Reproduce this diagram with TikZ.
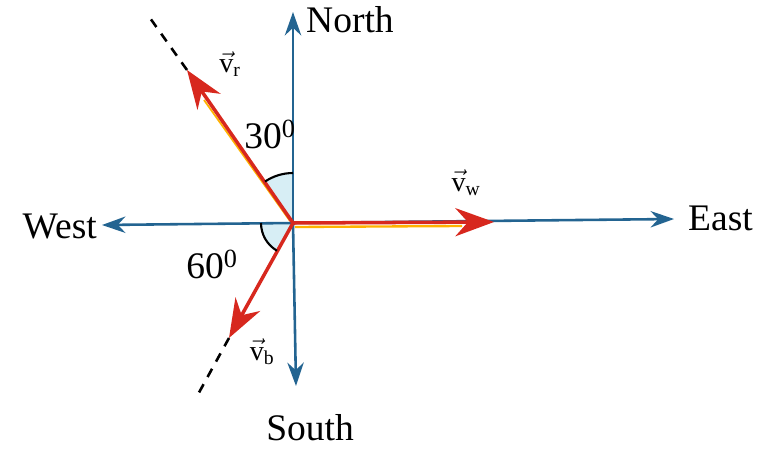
\documentclass[tikz,border=0pt]{standalone}
\usepackage{fontspec}
\setmainfont{Liberation Serif}
\usetikzlibrary{arrows.meta,calc}
\definecolor{axisblue}{RGB}{35,100,145}
\definecolor{vecred}{RGB}{215,40,30}
\definecolor{wedge}{RGB}{215,238,245}
\begin{document}
\begin{tikzpicture}[x=0.03cm,y=-0.03cm,
  axis/.style={draw=axisblue,line width=2.2pt,-{Stealth[length=20pt,width=14pt]}},
  vec/.style={draw=vecred,line width=3pt,-{Stealth[length=33pt,width=24pt]}},
  dashline/.style={draw=black,line width=2.2pt,dash pattern=on 8pt off 7pt},
  lab/.style={font=\fontsize{32}{36}\selectfont,inner sep=0pt},
  small/.style={font=\fontsize{24}{26}\selectfont,inner sep=0pt},
  arcline/.style={draw=black,line width=1.8pt}]
\useasboundingbox (0,0) rectangle (759,448);
\coordinate (O) at (293,223);
\coordinate (N) at (293,12);
\coordinate (S) at (296,386);
\coordinate (E) at (674,219);
\coordinate (W) at (102,225);
\coordinate (R) at (187,70);
\coordinate (Rd) at (150,18);
\coordinate (B) at (229,338);
\coordinate (Bd) at (196,398);
\coordinate (Wv) at (494,222);
% wedges
\fill[wedge] (O) -- ++(0,-50) arc[start angle=-90,end angle=-124,radius=50] -- cycle;
\fill[wedge] (O) -- ++(-32,0) arc[start angle=-180,end angle=-240,radius=32] -- cycle;
% axes
\draw[axis] (O) -- (N);
\draw[axis] (O) -- (S);
\draw[axis] (O) -- (E);
\draw[axis] (O) -- (W);
% dashed extensions
\draw[dashline] (R) -- (Rd);
\draw[dashline] (B) -- (Bd);
% vectors
\draw[draw=orange!60!yellow,line width=2pt] ($(O)+(2,4)$) -- ($(Wv)+(-32,4)$);
\draw[draw=orange!60!yellow,line width=1.5pt] ($(O)+(-3,-2)$) -- ($(R)+(17,30)$);
\draw[vec] (O) -- (R);
\draw[vec] (O) -- (B);
\draw[vec] (O) -- (Wv);
% arcs
\draw[arcline] ($(O)+(0,-50)$) arc[start angle=-90,end angle=-124,radius=50];
\draw[arcline] ($(O)+(-32,0)$) arc[start angle=-180,end angle=-240,radius=32];
% labels
\node[lab,anchor=base west] (north) at (306,32) {North};
\node[lab,anchor=base] (south) at (310,440) {South};
\node[lab,anchor=base east] (west) at (97,238) {West};
\node[lab,anchor=base west] (east) at (688,230) {East};
\node[lab,anchor=base] (a30) at (270,148) {30\textsuperscript{0}};
\node[lab,anchor=base] (a60) at (212,278) {60\textsuperscript{0}};
\node[small] (vr) at (230,64) {$\vec{\mathrm{v}}_{\mathrm{r}}$};
\node[small] (vw) at (466,183) {$\vec{\mathrm{v}}_{\mathrm{w}}$};
\node[small] (vb) at (262,352) {$\vec{\mathrm{v}}_{\mathrm{b}}$};
\end{tikzpicture}
\end{document}
